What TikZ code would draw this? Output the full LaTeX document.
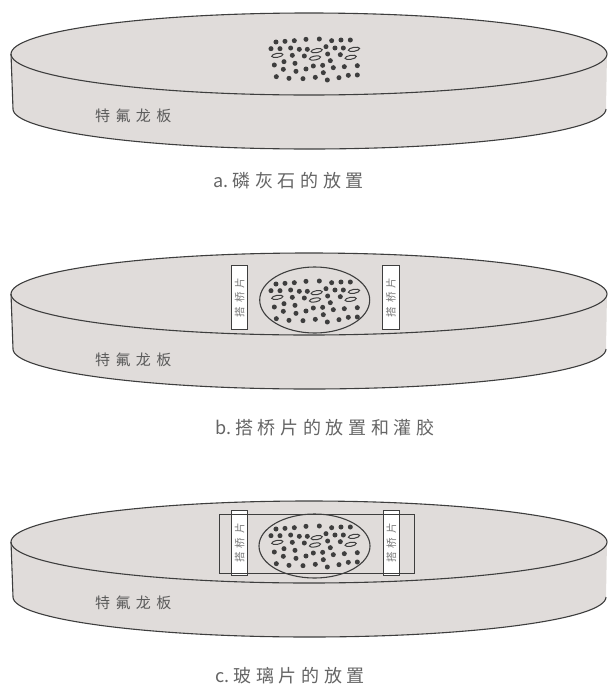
\documentclass[tikz,border=0pt]{standalone}
\usepackage{fontspec}
\newfontfamily\capfont[LetterSpace=26]{Noto Sans CJK SC}
\newfontfamily\capplain{Noto Sans CJK SC}
\newfontfamily\labfont[LetterSpace=36]{Noto Sans CJK SC}
\newfontfamily\stripfont[LetterSpace=40]{Noto Sans CJK SC}
\definecolor{plate}{RGB}{224,220,218}
\definecolor{ink}{RGB}{62,62,62}
\tikzset{
  plateline/.style={draw=ink,line width=1.1pt},
  platefill/.style={fill=plate},
  capt/.style={font=\capfont\fontsize{18}{18}\selectfont,text=ink!80,anchor=west,inner sep=0pt},
  platelabel/.style={font=\labfont\fontsize{15}{15}\selectfont,text=ink!85,anchor=west,inner sep=0pt},
  stripbox/.style={draw=ink,line width=1.2pt,fill=white,inner sep=0pt},
  striptext/.style={font=\stripfont\fontsize{10.5}{11}\selectfont,text=ink!70,inner sep=0pt,rotate=90},
  grain/.style={fill=ink,draw=none},
  flake/.style={draw=ink,line width=1pt,fill=plate}
}
\newcommand{\plate}[1]{%
  \begin{scope}[yshift=-#1]
    \path[platefill] (11,-54) -- (13,-109) arc[start angle=180,end angle=360,x radius=296.5,y radius=40] -- (607,-54) -- cycle;
    \path[platefill] (309,-54) ellipse[x radius=298,y radius=41];
    \draw[plateline] (309,-54) ellipse[x radius=298,y radius=41];
    \draw[plateline] (11,-54) -- (13,-109) arc[start angle=180,end angle=360,x radius=296.5,y radius=40];
  \end{scope}}
\newcommand{\grains}[1]{%
  \begin{scope}[yshift=-#1,shift={(200,-20)},x=.3333pt,y=-.3333pt]
    \foreach \gx/\gy in {228/66,255/64,283/62,318/58,358/57,395/62,423/60,451/60,213/86,240/86,272/84,298/88,322/88,378/80,405/84,430/84,277/106,313/108,383/102,421/104,391/122,223/135,252/125,285/130,340/138,368/136,400/143,433/140,472/137,250/148,288/154,318/147,370/158,229/170,267/175,309/176,346/172,382/180,417/173,445/166,472/165}
      \fill[grain] (\gx,\gy) circle[radius=7.5];
    \foreach \gx/\gy in {232/106,350/92,345/114,462/88,452/112}
      \draw[flake] (\gx,\gy) ellipse[x radius=17,y radius=6,rotate=10];
  \end{scope}}
\begin{document}
\begin{tikzpicture}[x=1pt,y=1pt]
\useasboundingbox (0,0) rectangle (609,-686);
\fill[white] (0,0) rectangle (609,-686);
% a
\plate{0pt}
\grains{0pt}
\node[platelabel] (la) at (95,-116) {特氟龙板};
\node[capt] (ca) at (213,-181) {{\capplain a.}\hspace{4pt}磷灰石的放置};
% b
\plate{240pt}
\draw[plateline,fill=plate] (314.7,-300) ellipse[x radius=55,y radius=33];
\grains{242pt}
\node[stripbox,minimum width=16pt,minimum height=63.5pt] (b1) at (239.7,-297.5) {};
\node[striptext] (b1t) at (b1) {搭桥片};
\node[stripbox,minimum width=16.5pt,minimum height=63.5pt] (b2) at (391,-297.5) {};
\node[striptext] (b2t) at (b2) {搭桥片};
\node[platelabel] (lb) at (95,-360) {特氟龙板};
\node[capt] (cb) at (215,-428) {{\capplain b.}\hspace{4pt}搭桥片的放置和灌胶};
% c
\plate{488pt}
\draw[plateline,fill=plate] (314.5,-546) ellipse[x radius=55.5,y radius=32];
\grains{487pt}
\node[stripbox,minimum width=16pt,minimum height=64.5pt] (c1) at (239.7,-543) {};
\node[striptext] (c1t) at (c1) {搭桥片};
\node[stripbox,minimum width=16pt,minimum height=64.5pt] (c2) at (391.3,-543) {};
\node[striptext] (c2t) at (c2) {搭桥片};
\draw[plateline,line width=.9pt] (219.3,-514) rectangle (414,-573);
\node[platelabel] (lc) at (95,-603) {特氟龙板};
\node[capt] (cc) at (215,-676) {{\capplain c.}\hspace{4pt}玻璃片的放置};
\end{tikzpicture}
\end{document}
